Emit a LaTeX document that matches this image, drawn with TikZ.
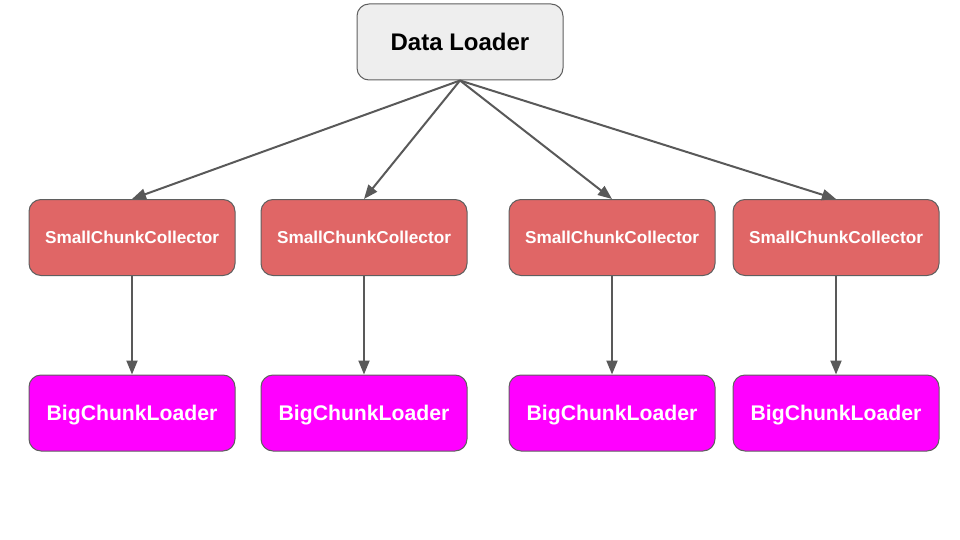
\documentclass[tikz,border=0pt]{standalone}
\usepackage{fontspec}
\setmainfont{Liberation Sans}
\usetikzlibrary{arrows.meta}
\definecolor{dlfill}{HTML}{EEEEEE}
\definecolor{boxline}{HTML}{5F5F5F}
\definecolor{smallfill}{HTML}{E06666}
\definecolor{bigfill}{HTML}{FF00FF}
\definecolor{arrowcol}{HTML}{595959}
\tikzset{
  basebox/.style={draw=boxline, line width=1pt, rounded corners=12pt, minimum width=206pt, minimum height=76pt, inner sep=0pt, anchor=center, text depth=0pt},
  dlbox/.style={basebox, fill=dlfill, font=\fontsize{24}{28}\selectfont\bfseries, text=black, text height=17.2pt},
  smallbox/.style={basebox, fill=smallfill, font=\fontsize{17.2}{20}\selectfont\bfseries, text=white, text height=12.3pt},
  bigbox/.style={basebox, fill=bigfill, font=\fontsize{21.2}{25}\selectfont\bfseries, text=white, text height=15.2pt},
  conn/.style={draw=arrowcol, line width=2pt, -{Triangle[length=14pt,width=11pt]}}
}
\begin{document}
\begin{tikzpicture}[x=1pt,y=-1pt]
\useasboundingbox (0,0) rectangle (960,540);
\node[dlbox] (dl) at (460,42) {Data Loader};
\node[smallbox] (s1) at (132,237.5) {SmallChunkCollector};
\node[smallbox] (s2) at (364,237.5) {SmallChunkCollector};
\node[smallbox] (s3) at (612,237.5) {SmallChunkCollector};
\node[smallbox] (s4) at (836,237.5) {SmallChunkCollector};
\node[bigbox] (b1) at (132,413) {BigChunkLoader};
\node[bigbox] (b2) at (364,413) {BigChunkLoader};
\node[bigbox] (b3) at (612,413) {BigChunkLoader};
\node[bigbox] (b4) at (836,413) {BigChunkLoader};
\foreach \i in {1,2,3,4}{
  \draw[conn] (dl.south) -- (s\i.north);
  \draw[conn] (s\i.south) -- (b\i.north);
}
\end{tikzpicture}
\end{document}
